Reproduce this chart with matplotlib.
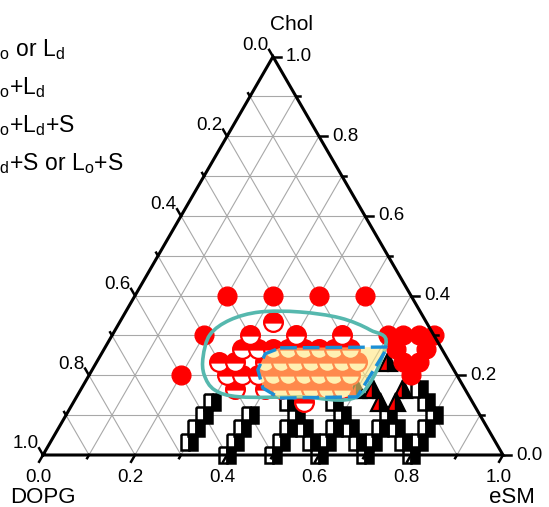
import numpy as np
import matplotlib
matplotlib.use('Agg')
import matplotlib.pyplot as plt
from matplotlib.path import Path
from matplotlib.patches import PathPatch

plt.rcParams['font.family'] = ['Liberation Sans', 'DejaVu Sans']
plt.rcParams['mathtext.fontset'] = 'custom'
plt.rcParams['mathtext.rm'] = 'Liberation Sans'
plt.rcParams['mathtext.it'] = 'Liberation Sans:italic'

# compositions on a 1/30 lattice: (eSM, Chol) in units of 1/30, DOPG = rest
single_esm = [6, 9, 12, 15, 6, 6, 18, 19, 19, 20, 21, 21, 20, 21, 21]
single_chol = [12, 12, 12, 12, 9, 6, 9, 9, 8, 9, 9, 8, 7, 7, 6]

coex_esm = [10, 9, 12, 15, 9, 10, 8, 9, 9, 10, 10, 15,
            11, 12, 13, 14, 15, 16,
            11, 12, 13, 14, 15, 16, 17,
            11, 12, 13, 14, 15, 16, 17,
            12, 13, 14, 15, 16, 17]
coex_chol = [10, 9, 9, 9, 8, 8, 7, 7, 6, 6, 5, 4,
             8, 8, 8, 8, 8, 8,
             7, 7, 7, 7, 7, 7, 7,
             6, 6, 6, 6, 6, 6, 6,
             5, 5, 5, 5, 5, 5]

three_esm = [19, 19, 20, 21, 21, 18]
three_chol = [7, 5, 4, 5, 4, 5]

solid_esm = [9, 9, 9, 9, 12, 12, 12, 12, 15, 15, 15, 15,
             18, 17, 16, 14, 18, 18, 18, 21, 20, 19, 17,
             21, 21, 21, 24, 23, 22, 24, 24, 24, 23, 22]
solid_chol = [1, 2, 3, 4, 0, 1, 2, 3, 0, 1, 2, 3,
              0, 1, 2, 4, 1, 2, 3, 0, 1, 2, 4,
              1, 2, 3, 0, 1, 2, 1, 2, 3, 4, 5]

# outlines (eSM, Chol fractions)
teal_esm = [0.225, 0.212, 0.237, 0.292, 0.379, 0.474, 0.554, 0.606, 0.611, 0.486, 0.355, 0.292, 0.25]
teal_chol = [0.246, 0.302, 0.339, 0.359, 0.359, 0.344, 0.314, 0.279, 0.148, 0.146, 0.146, 0.163, 0.201]
blue_esm = [0.381, 0.614, 0.610, 0.443, 0.394, 0.360, 0.356]
blue_chol = [0.269, 0.271, 0.146, 0.143, 0.168, 0.214, 0.254]

ticks = [0.0, 0.2, 0.4, 0.6, 0.8, 1.0]
legend_labels = [r'L$_\mathrm{o}$ or L$_\mathrm{d}$', r'L$_\mathrm{o}$+L$_\mathrm{d}$',
                 r'L$_\mathrm{o}$+L$_\mathrm{d}$+S', r'L$_\mathrm{d}$+S or L$_\mathrm{o}$+S']

H = np.sqrt(3) / 2


def tern(esm, chol):
    esm = np.asarray(esm, float)
    chol = np.asarray(chol, float)
    return esm + chol / 2, chol * H


fig = plt.figure(figsize=(5.49, 5.07), dpi=100)
ax = fig.add_axes([0, 0, 1, 1])
ax.set_xlim(-43 / 460, 506 / 460)
ax.set_ylim(-52 / 460, 455 / 460)
ax.axis('off')

# grid
for k in range(1, 10):
    f = k / 10
    for p, q in [((0, f), (1 - f, f)), ((f, 0), (f, 1 - f)), ((f, 0), (0, f))]:
        x, y = tern([p[0], q[0]], [p[1], q[1]])
        ax.plot(x, y, color='#a8a8a8', lw=0.8, zorder=1)
# frame
x, y = tern([0, 1, 0, 0], [0, 0, 1, 0])
ax.plot(x, y, color='black', lw=2.2, zorder=6, solid_joinstyle='miter')

# ticks
for k in range(11):
    f = k / 10
    L = 0.017 if k % 2 == 0 else 0.008
    x0, y0 = tern(f, 0)
    ax.plot([x0, x0 - L * 0.5], [y0, y0 - L * H], color='black', lw=1.8, zorder=6)
    x0, y0 = tern(1 - f, f)
    ax.plot([x0, x0 + L], [y0, y0], color='black', lw=1.8, zorder=6)
    x0, y0 = tern(0, 1 - f)
    ax.plot([x0, x0 - L * 0.5], [y0, y0 + L * H], color='black', lw=1.8, zorder=6)
for t in ticks:
    x0, y0 = tern(t, 0)
    ax.text(x0 - 0.01, y0 - 0.03, f'{t:.1f}', ha='center', va='top', fontsize=13.5)
    x0, y0 = tern(1 - t, t)
    ax.text(x0 + 0.028, y0, f'{t:.1f}', ha='left', va='center', fontsize=13.5)
    x0, y0 = tern(0, 1 - t)
    ax.text(x0 - 0.01, y0 + 0.024, f'{t:.1f}', ha='right', va='center', fontsize=13.5)

ax.text(*tern(0, 1.08), 'Chol', ha='center', va='center', fontsize=15)
ax.text(0.0, -0.092, 'DOPG', ha='center', va='center', fontsize=16)
ax.text(1.02, -0.092, 'eSM', ha='center', va='center', fontsize=16)

# data
s = 1 / 30
x, y = tern(np.array(solid_esm) * s, np.array(solid_chol) * s)
ax.plot(x, y, 's', ms=11.5, mec='black', mew=1.8, fillstyle='left', mfc='white', mfcalt='black', zorder=3)
x, y = tern(np.array(three_esm) * s, np.array(three_chol) * s)
ax.plot(x, y, '^', ms=12.5, mec='black', mew=1.6, fillstyle='left', mfc='red', mfcalt='black', zorder=3)
x, y = tern(np.array(coex_esm) * s, np.array(coex_chol) * s)
ax.plot(x, y, 'o', ms=13.5, mec='red', mew=1.6, fillstyle='top', mfc='red', mfcalt='white', zorder=3)
x, y = tern(np.array(single_esm) * s, np.array(single_chol) * s)
ax.plot(x, y, 'o', ms=13.5, mec='red', mfc='red', zorder=3)


def closed_path(xs, ys):
    pts = np.column_stack([xs, ys])
    n = len(pts)
    verts = [pts[0]]
    codes = [Path.MOVETO]
    for i in range(n):
        p0, p1, p2, p3 = pts[i - 1], pts[i], pts[(i + 1) % n], pts[(i + 2) % n]
        verts += [p1 + (p2 - p0) / 6, p2 - (p3 - p1) / 6, p2]
        codes += [Path.CURVE4] * 3
    return Path(verts, codes)


x, y = tern(teal_esm, teal_chol)
ax.add_patch(PathPatch(closed_path(x, y), fc='none', ec='#56b8ae', lw=2.6, zorder=4))
x, y = tern(blue_esm, blue_chol)
xy = np.column_stack([x, y])
ax.add_patch(plt.Polygon(xy, closed=True, fc='#ffe680', alpha=0.6, ec='none', zorder=4))
ax.add_patch(plt.Polygon(xy, closed=True, fc='none', ec='#1b8fd6', lw=2.4, ls=(0, (5, 1.8)), zorder=5))

# legend text (its markers lie outside the visible area)
for i, lab in enumerate(legend_labels):
    fig.text(-13 / 549, 1 - (50 + 37.7 * i) / 507, lab, ha='left', va='center', fontsize=16.5)

fig.savefig('out.png', dpi=100)
